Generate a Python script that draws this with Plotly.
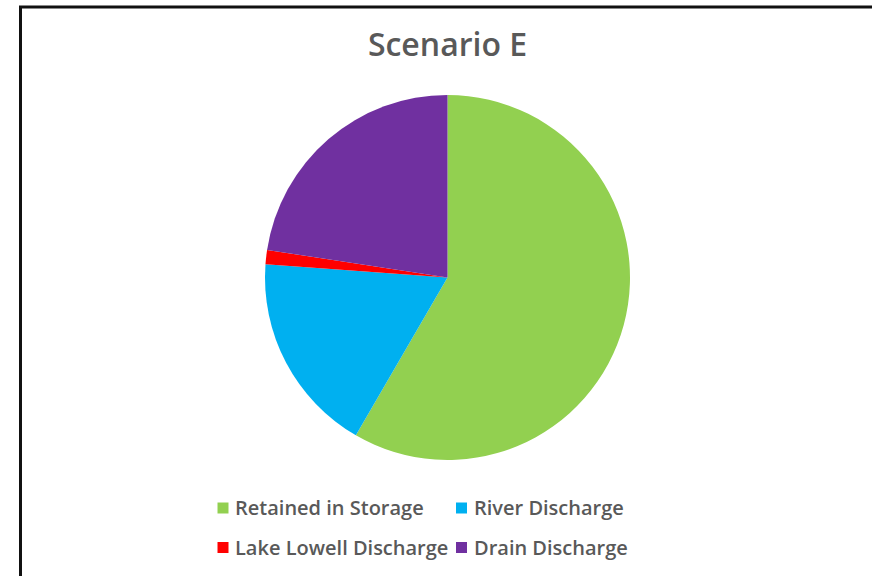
import plotly.graph_objects as go

labels = ["Retained in Storage", "River Discharge", "Lake Lowell Discharge", "Drain Discharge"]
values = [58.4, 17.8, 1.25, 22.6]
colors = ["#92D050", "#00B0F0", "#FF0000", "#7030A0"]

W, H = 872, 576

def px(x):
    return x / W

def py(y):
    return 1 - y / H

cx, cy, r = 447.5, 277.5, 182.5
FONT = "Open Sans"
TXT = "#595959"

fig = go.Figure(go.Pie(
    labels=labels, values=values, sort=False, direction="clockwise", rotation=0,
    marker=dict(colors=colors, line=dict(width=0)),
    textinfo="none", hoverinfo="label+percent",
    domain=dict(x=[px(cx - r), px(cx + r)], y=[py(cy + r), py(cy - r)]),
    showlegend=False,
))

# legend drawn as a 2x2 grid of colour keys + labels
col_x = [217.5, 456]
row_y = [508, 547.5]
shapes = [dict(type="rect", xref="paper", yref="paper",
               x0=px(20.5), x1=px(W + 20), y0=py(H + 20), y1=py(7),
               line=dict(color="#111111", width=3), fillcolor="rgba(0,0,0,0)", layer="above")]
annotations = []
for i, (lab, col) in enumerate(zip(labels, colors)):
    x = col_x[i % 2]
    y = row_y[i // 2]
    shapes.append(dict(type="rect", xref="paper", yref="paper",
                       x0=px(x), x1=px(x + 11), y0=py(y + 5.5), y1=py(y - 5.5),
                       line=dict(width=0), fillcolor=col))
    annotations.append(dict(text=lab, xref="paper", yref="paper", x=px(x + 15.5), y=py(y - 0.5),
                            xanchor="left", yanchor="middle", showarrow=False,
                            font=dict(family=FONT, size=20, color=TXT, weight=600)))

fig.update_layout(
    width=W, height=H,
    margin=dict(l=0, r=0, t=0, b=0),
    paper_bgcolor="white", plot_bgcolor="white",
    title=dict(text="Scenario E", x=px(447.5), xanchor="center", y=py(45), yanchor="middle",
               font=dict(family=FONT, size=32, color=TXT, weight=600)),
    shapes=shapes,
    annotations=annotations,
)

fig.write_html("out.html")
